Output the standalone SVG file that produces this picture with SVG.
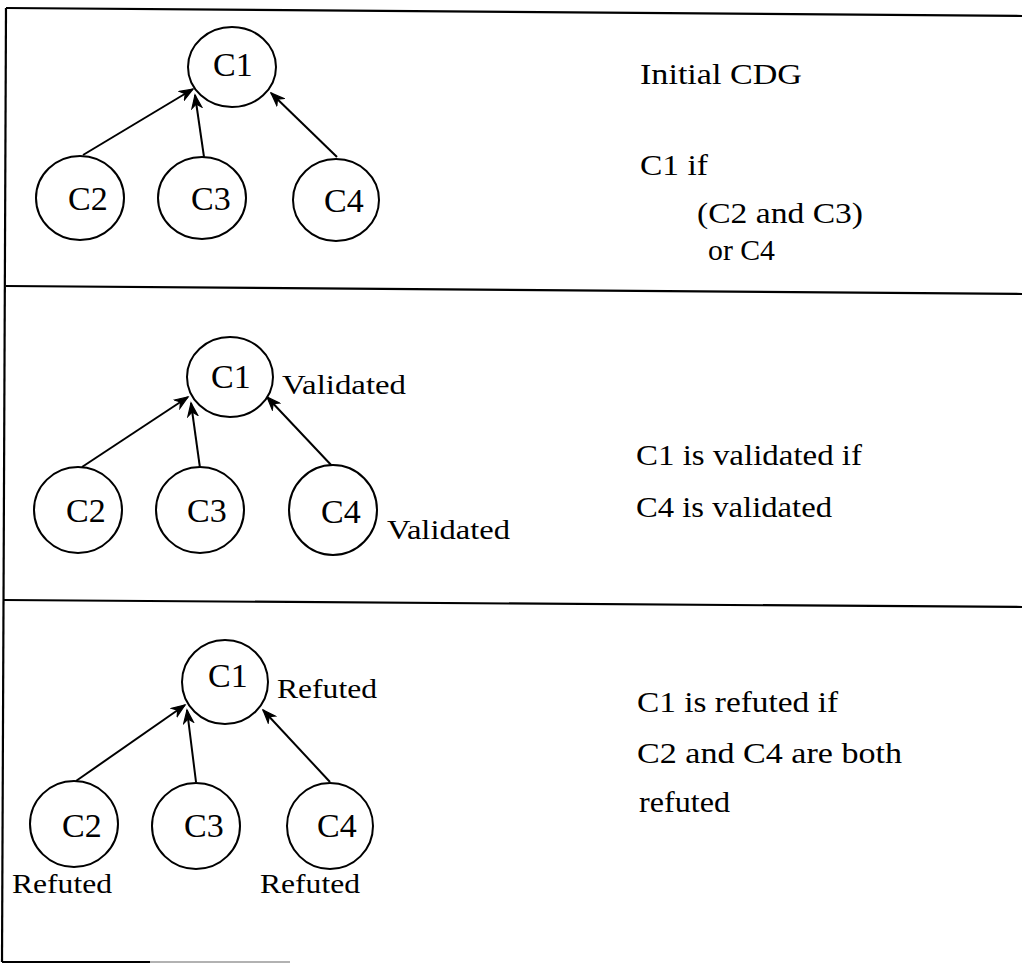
<svg xmlns="http://www.w3.org/2000/svg" width="1022" height="963" viewBox="0 0 1022 963">
<style>
.frame{stroke:#000;stroke-width:2.2;fill:none}
.node ellipse{fill:#fff;stroke:#000;stroke-width:2}
.node text{font-family:"Liberation Serif",serif;font-size:34px;fill:#000}
.lbl{font-family:"Liberation Serif",serif;font-size:27px;fill:#000}
.desc{font-family:"Liberation Serif",serif;font-size:29px;fill:#000}
.edge{stroke:#000;stroke-width:2;fill:none;marker-end:url(#arr)}
</style>
<defs>
<marker id="arr" markerUnits="userSpaceOnUse" markerWidth="16" markerHeight="12" refX="14" refY="6" orient="auto">
<path d="M1,1 L14,6 L1,11 L5,6 Z" fill="#000" stroke="#000" stroke-width="1.2" stroke-linejoin="miter"/>
</marker>
</defs>
<rect width="1022" height="963" fill="#fff"/>
<g id="frame">
<line class="frame" x1="6" y1="8" x2="1022" y2="16"/>
<line class="frame" x1="6" y1="286" x2="1022" y2="294"/>
<line class="frame" x1="4" y1="600" x2="1022" y2="607"/>
<line class="frame" x1="6" y1="8" x2="2" y2="962"/>
<line class="frame" x1="2" y1="962" x2="150" y2="962"/>
<line x1="150" y1="962" x2="290" y2="962" stroke="#999" stroke-width="1.5"/>
</g>
<g id="connectors">
<line class="edge" x1="83" y1="155" x2="193" y2="89"/>
<line class="edge" x1="204" y1="157" x2="195" y2="95"/>
<line class="edge" x1="337" y1="157" x2="271" y2="93"/>
<line class="edge" x1="82" y1="467" x2="188" y2="397"/>
<line class="edge" x1="200" y1="468" x2="191" y2="403"/>
<line class="edge" x1="333" y1="467" x2="267" y2="397"/>
<line class="edge" x1="76" y1="781" x2="185" y2="705"/>
<line class="edge" x1="196" y1="782" x2="187" y2="710"/>
<line class="edge" x1="330" y1="782" x2="263" y2="710"/>
</g>
<g id="p1-c1" class="node"><ellipse cx="232" cy="67" rx="44" ry="40"/><text x="213" y="76">C1</text></g>
<g id="p1-c2" class="node"><ellipse cx="80" cy="198" rx="44" ry="42"/><text x="68" y="210">C2</text></g>
<g id="p1-c3" class="node"><ellipse cx="202" cy="198" rx="44" ry="41"/><text x="191" y="210">C3</text></g>
<g id="p1-c4" class="node"><ellipse cx="336" cy="200" rx="43" ry="41"/><text x="324" y="212">C4</text></g>
<g id="p1-text">
<text class="desc" x="640" y="84" textLength="162" lengthAdjust="spacingAndGlyphs">Initial CDG</text>
<text class="desc" x="640" y="175" textLength="68" lengthAdjust="spacingAndGlyphs">C1 if</text>
<text class="desc" x="697" y="223" textLength="166" lengthAdjust="spacingAndGlyphs">(C2 and C3)</text>
<text class="desc" x="708" y="260" textLength="67" lengthAdjust="spacingAndGlyphs">or C4</text>
</g>
<g id="p2-c1" class="node"><ellipse cx="230" cy="377" rx="43" ry="40"/><text x="211" y="388">C1</text></g>
<g id="p2-c2" class="node"><ellipse cx="78" cy="510" rx="44" ry="43"/><text x="66" y="522">C2</text></g>
<g id="p2-c3" class="node"><ellipse cx="200" cy="510" rx="44" ry="43"/><text x="187" y="522">C3</text></g>
<g id="p2-c4" class="node"><ellipse cx="333" cy="510" rx="44" ry="45"/><text x="321" y="523">C4</text></g>
<g id="p2-text">
<text class="lbl" x="282" y="394" textLength="124" lengthAdjust="spacingAndGlyphs">Validated</text>
<text class="lbl" x="387" y="539" textLength="123" lengthAdjust="spacingAndGlyphs">Validated</text>
<text class="desc" x="636" y="465" textLength="226" lengthAdjust="spacingAndGlyphs">C1 is validated if</text>
<text class="desc" x="636" y="517" textLength="196" lengthAdjust="spacingAndGlyphs">C4 is validated</text>
</g>
<g id="p3-c1" class="node"><ellipse cx="225" cy="682" rx="43" ry="42"/><text x="208" y="687">C1</text></g>
<g id="p3-c2" class="node"><ellipse cx="74" cy="824" rx="44" ry="43"/><text x="62" y="837">C2</text></g>
<g id="p3-c3" class="node"><ellipse cx="196" cy="826" rx="44" ry="43"/><text x="184" y="837">C3</text></g>
<g id="p3-c4" class="node"><ellipse cx="330" cy="826" rx="43" ry="43"/><text x="317" y="837">C4</text></g>
<g id="p3-text">
<text class="lbl" x="277" y="698" textLength="100" lengthAdjust="spacingAndGlyphs">Refuted</text>
<text class="lbl" x="12" y="893" textLength="100" lengthAdjust="spacingAndGlyphs">Refuted</text>
<text class="lbl" x="260" y="893" textLength="100" lengthAdjust="spacingAndGlyphs">Refuted</text>
<text class="desc" x="637" y="712" textLength="201" lengthAdjust="spacingAndGlyphs">C1 is refuted if</text>
<text class="desc" x="637" y="763" textLength="265" lengthAdjust="spacingAndGlyphs">C2 and C4 are both</text>
<text class="desc" x="639" y="812" textLength="91" lengthAdjust="spacingAndGlyphs">refuted</text>
</g>
</svg>
